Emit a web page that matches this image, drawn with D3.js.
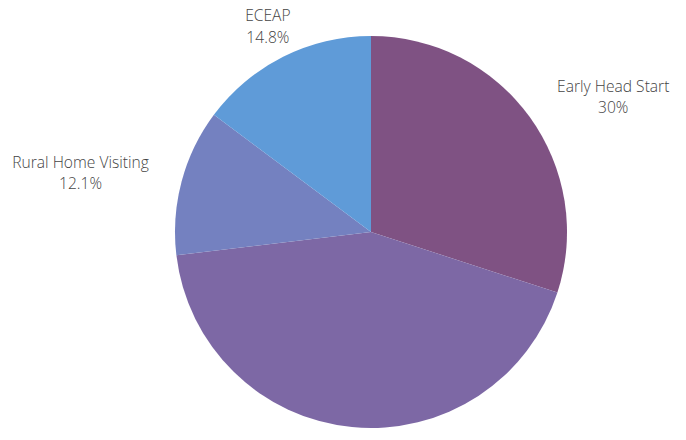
<!DOCTYPE html>
<html>
<head>
<meta charset="utf-8">
<script src="https://cdn.jsdelivr.net/npm/d3@7"></script>
<style>
  body { margin: 0; background: #fff; }
  text { font-family: "Open Sans", sans-serif; font-size: 15.6px; font-weight: 300; fill: #444; }
</style>
</head>
<body>
<div id="wrapper"></div>
<script>
// slices, clockwise from 12 o'clock
const categories = ["Early Head Start", "Head Start", "Rural Home Visiting", "ECEAP"];
const values = [30, 43.1, 12.1, 14.8];
const valueLabels = ["30%", "43.1%", "12.1%", "14.8%"];
const showLabel = [true, false, true, true];
const colors = ["#7f5283", "#7d68a5", "#7481c0", "#5f9bd8"];

const width = 686, height = 440;
const cx = 371, cy = 232, radius = 196, labelRadius = 230;

const data = categories.map((c, i) => ({ name: c, value: values[i], label: valueLabels[i], show: showLabel[i], color: colors[i] }));

const svg = d3.select("#wrapper")
  .append("svg")
  .attr("width", width)
  .attr("height", height);

const g = svg.append("g").attr("transform", `translate(${cx},${cy})`);

const pie = d3.pie().value(d => d.value).sort(null);
const arc = d3.arc().innerRadius(0).outerRadius(radius);
const labelArc = d3.arc().innerRadius(labelRadius).outerRadius(labelRadius);

const arcs = pie(data);

g.selectAll("path.slice")
  .data(arcs)
  .enter()
  .append("path")
  .attr("class", "slice")
  .attr("d", arc)
  .attr("fill", d => d.data.color);

// labels hang off the label radius: left side ends there, right side starts there
const labels = g.selectAll("text.label")
  .data(arcs.filter(d => d.data.show))
  .enter()
  .append("text")
  .attr("class", "label")
  .attr("transform", d => `translate(${labelArc.centroid(d)})`)
  .attr("text-anchor", "middle");

labels.append("tspan")
  .attr("x", 0)
  .attr("dy", "-0.32em")
  .text(d => d.data.name);

labels.append("tspan")
  .attr("x", 0)
  .attr("dy", 21.5)
  .text(d => d.data.label);

// shift each two-line block so its near edge sits on the label point
labels.each(function(d) {
  const s = Math.sin((d.startAngle + d.endAngle) / 2);
  if (Math.abs(s) < 0.5) return;
  const spans = d3.select(this).selectAll("tspan");
  const w = spans.nodes()[0].getComputedTextLength();
  spans.attr("x", s > 0 ? w / 2 : -w / 2);
});
</script>
</body>
</html>
